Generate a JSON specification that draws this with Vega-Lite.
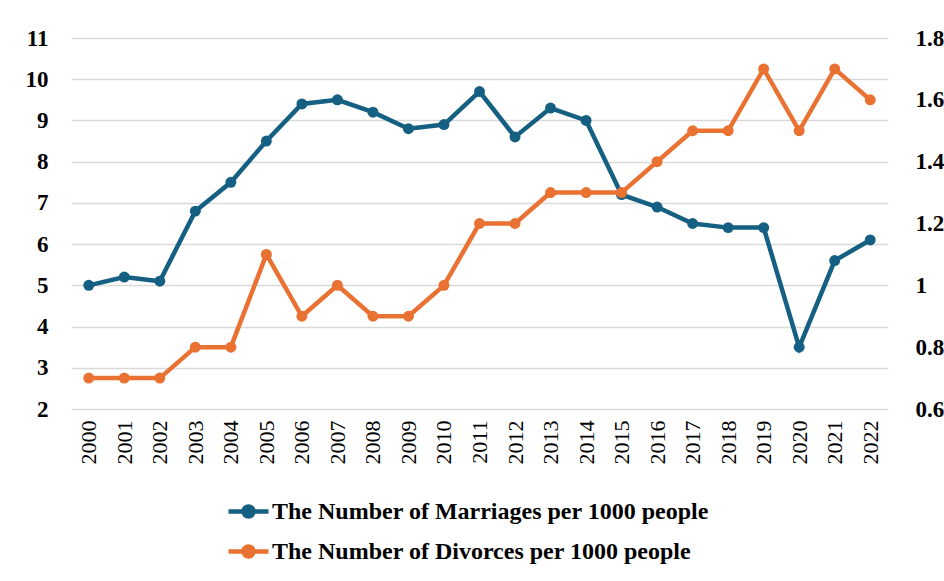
{
  "$schema": "https://vega.github.io/schema/vega-lite/v6.json",
  "width": 817,
  "height": 371,
  "autosize": {"type": "none"},
  "padding": {"left": 71, "top": 38, "right": 56, "bottom": 172},
  "background": "white",
  "config": {
    "view": {"stroke": null},
    "font": "Liberation Serif",
    "axis": {"labelFont": "Liberation Serif", "labelColor": "#000000", "ticks": false, "domain": false, "title": null}
  },
  "data": {
    "values": [
      {"year": "2000", "marriages": 5.0, "divorces": 0.7},
      {"year": "2001", "marriages": 5.2, "divorces": 0.7},
      {"year": "2002", "marriages": 5.1, "divorces": 0.7},
      {"year": "2003", "marriages": 6.8, "divorces": 0.8},
      {"year": "2004", "marriages": 7.5, "divorces": 0.8},
      {"year": "2005", "marriages": 8.5, "divorces": 1.1},
      {"year": "2006", "marriages": 9.4, "divorces": 0.9},
      {"year": "2007", "marriages": 9.5, "divorces": 1.0},
      {"year": "2008", "marriages": 9.2, "divorces": 0.9},
      {"year": "2009", "marriages": 8.8, "divorces": 0.9},
      {"year": "2010", "marriages": 8.9, "divorces": 1.0},
      {"year": "2011", "marriages": 9.7, "divorces": 1.2},
      {"year": "2012", "marriages": 8.6, "divorces": 1.2},
      {"year": "2013", "marriages": 9.3, "divorces": 1.3},
      {"year": "2014", "marriages": 9.0, "divorces": 1.3},
      {"year": "2015", "marriages": 7.2, "divorces": 1.3},
      {"year": "2016", "marriages": 6.9, "divorces": 1.4},
      {"year": "2017", "marriages": 6.5, "divorces": 1.5},
      {"year": "2018", "marriages": 6.4, "divorces": 1.5},
      {"year": "2019", "marriages": 6.4, "divorces": 1.7},
      {"year": "2020", "marriages": 3.5, "divorces": 1.5},
      {"year": "2021", "marriages": 5.6, "divorces": 1.7},
      {"year": "2022", "marriages": 6.1, "divorces": 1.6}
    ]
  },
  "encoding": {
    "x": {
      "field": "year",
      "type": "ordinal",
      "scale": {"type": "point", "padding": 0.5},
      "axis": {"labelAngle": -90, "labelFontSize": 22, "labelPadding": 11, "grid": false}
    }
  },
  "layer": [
    {
      "mark": {"type": "line", "strokeWidth": 4.5, "point": {"filled": true, "size": 120}},
      "encoding": {
        "y": {
          "field": "marriages",
          "type": "quantitative",
          "scale": {"domain": [2, 11], "nice": false, "zero": false},
          "axis": {
            "orient": "left",
            "values": [2, 3, 4, 5, 6, 7, 8, 9, 10, 11],
            "grid": true,
            "gridColor": "#d9d9d9",
            "gridWidth": 1.5,
            "labelFontSize": 23,
            "labelFontWeight": "bold",
            "labelPadding": 23
          }
        },
        "color": {
          "datum": "The Number of Marriages per 1000 people",
          "scale": {
            "domain": ["The Number of Marriages per 1000 people", "The Number of Divorces per 1000 people"],
            "range": ["#156082", "#E97132"]
          },
          "legend": {
            "title": null,
            "orient": "none",
            "direction": "vertical",
            "legendX": 155,
            "legendY": 451,
            "labelFont": "Liberation Serif",
            "labelFontSize": 24,
            "labelFontWeight": "bold",
            "labelColor": "#000000",
            "labelOffset": 1,
            "labelLimit": 700,
            "rowPadding": 3,
            "symbolType": "M-1,0H1M0.25,0A0.25,0.25,0,1,1,-0.25,0A0.25,0.25,0,1,1,0.25,0Z",
            "symbolSize": 1600,
            "symbolStrokeWidth": 4.5,
            "encode": {
              "symbols": {
                "update": {
                  "fill": {"scale": "color", "field": "value"},
                  "stroke": {"scale": "color", "field": "value"},
                  "opacity": {"value": 1}
                }
              }
            }
          }
        }
      }
    },
    {
      "mark": {"type": "line", "strokeWidth": 4.5, "point": {"filled": true, "size": 120}},
      "encoding": {
        "y": {
          "field": "divorces",
          "type": "quantitative",
          "scale": {"domain": [0.6, 1.8], "nice": false, "zero": false},
          "axis": {
            "orient": "right",
            "values": [0.6, 0.8, 1.0, 1.2, 1.4, 1.6, 1.8],
            "format": "~g",
            "grid": false,
            "labelFontSize": 23,
            "labelFontWeight": "bold",
            "labelPadding": 27
          }
        },
        "color": {"datum": "The Number of Divorces per 1000 people"}
      }
    }
  ],
  "resolve": {"scale": {"y": "independent"}}
}
